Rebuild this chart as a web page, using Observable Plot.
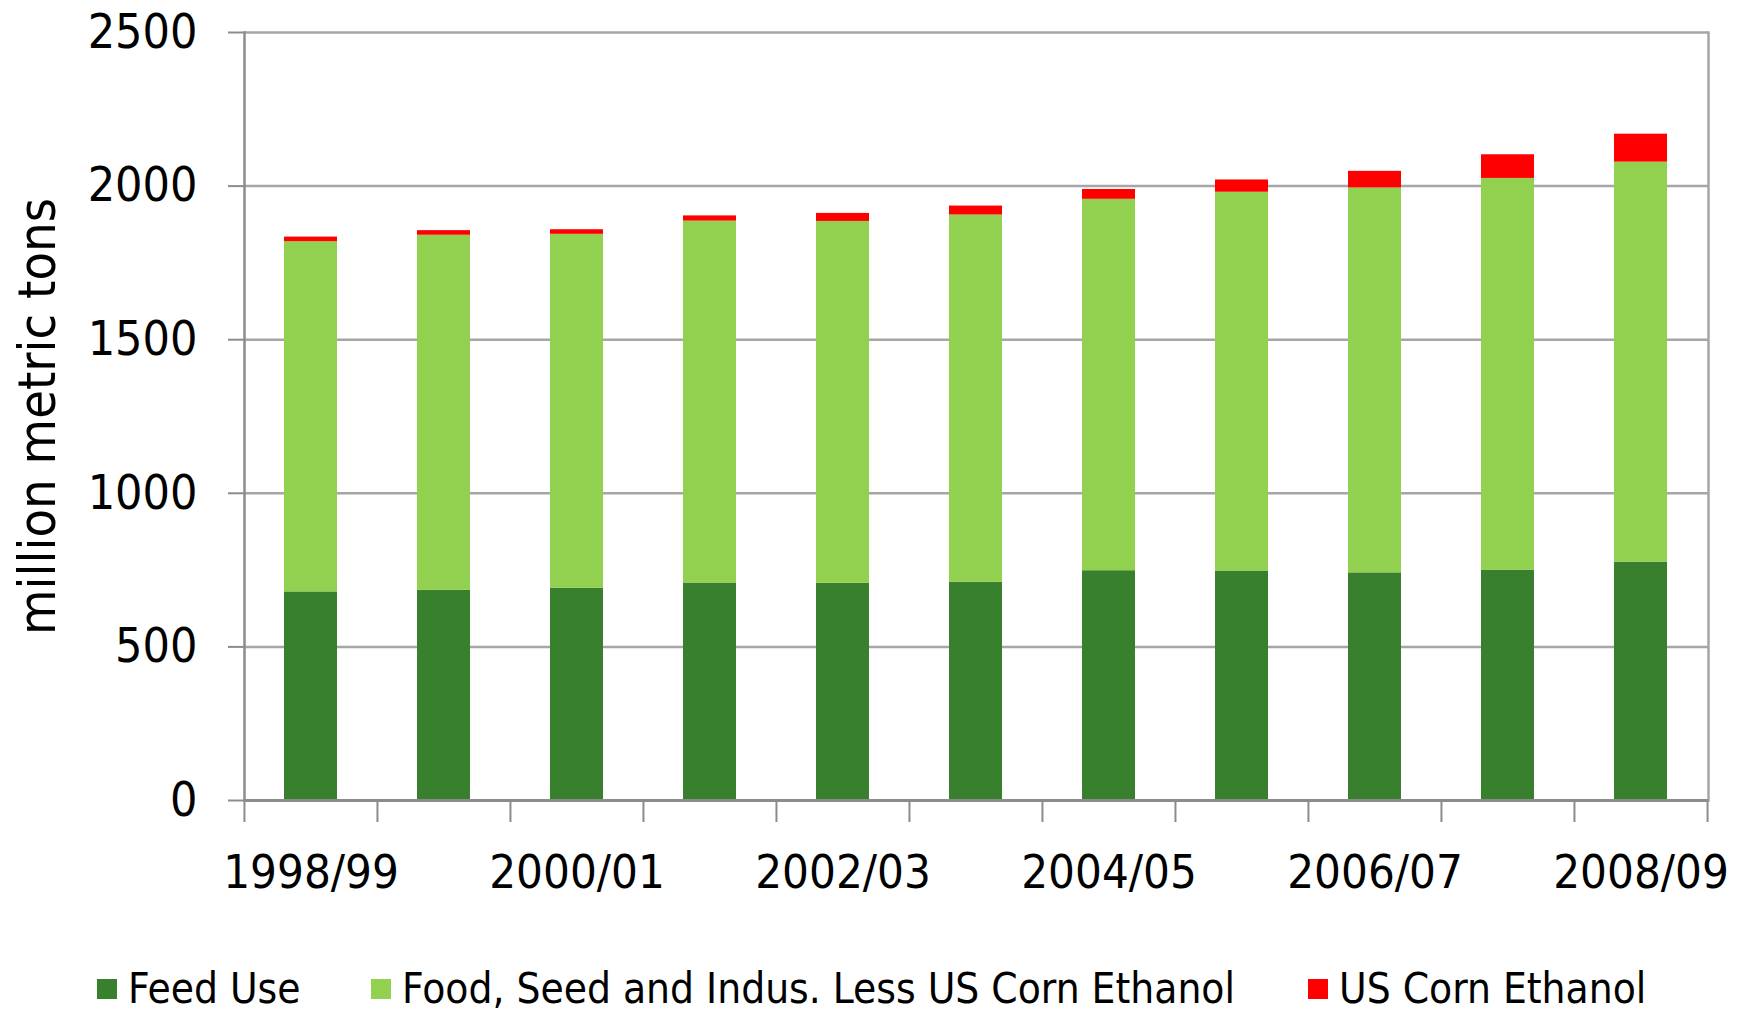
<!DOCTYPE html>
<html>
<head>
<meta charset="utf-8">
<script src="https://cdn.jsdelivr.net/npm/d3@7"></script>
<script src="https://cdn.jsdelivr.net/npm/@observablehq/plot@0.6"></script>
<style>
  html, body { margin: 0; padding: 0; background: #fff; }
  #chart { position: relative; width: 1748px; }
  .legend { position: relative; width: 1748px; height: 82px; font-family: "DejaVu Sans Condensed", "DejaVu Sans", sans-serif; font-size: 42px; line-height: 1; color: #000; }
  .legend .item { position: absolute; top: 37px; height: 44px; display: flex; align-items: center; white-space: nowrap; }
  .legend .sw { width: 20px; height: 20px; margin-right: 11px; display: inline-block; }
</style>
</head>
<body>
<div id="chart"></div>
<script>
const years = ["1998/99","1999/00","2000/01","2001/02","2002/03","2003/04","2004/05","2005/06","2006/07","2007/08","2008/09"];
const feedUse = [679, 684, 691, 708, 707, 710, 748, 747, 741, 750, 776];
const foodSeedIndus = [1140, 1156, 1152, 1178, 1178, 1196, 1209, 1233, 1253, 1275, 1302];
const usCornEthanol = [15, 15, 15, 17, 26, 29, 32, 40, 54, 77, 91];
const seriesNames = ["Feed Use", "Food, Seed and Indus. Less US Corn Ethanol", "US Corn Ethanol"];
const seriesColors = ["#38802E", "#92D050", "#FF0000"];
const yTicks = [0, 500, 1000, 1500, 2000, 2500];
const xTickLabels = ["1998/99", "2000/01", "2002/03", "2004/05", "2006/07", "2008/09"];
const yLabel = "million metric tons";

const seriesValues = [feedUse, foodSeedIndus, usCornEthanol];
const data = [];
years.forEach((yr, i) => {
  seriesNames.forEach((s, k) => data.push({year: yr, series: s, value: seriesValues[k][i]}));
});

const W = 1748, H = 930;
const mLeft = 244, mRight = 40, mTop = 32, mBottom = 130;
const step = (W - mLeft - mRight) / years.length;
const font = '"DejaVu Sans Condensed", "DejaVu Sans", sans-serif';
const gridColor = "#a6a6a6";
const axisColor = "#8c8c8c";

const chart = Plot.plot({
  width: W,
  height: H,
  marginLeft: mLeft,
  marginRight: mRight,
  marginTop: mTop,
  marginBottom: mBottom,
  style: {fontFamily: font, background: "#fff"},
  x: {domain: years, paddingInner: 0.6, paddingOuter: 0.3, axis: null},
  y: {domain: [0, 2500], axis: null},
  color: {domain: seriesNames, range: seriesColors},
  marks: [
    Plot.ruleY(yTicks.filter(d => d > 0), {stroke: gridColor, strokeWidth: 2.5}),
    Plot.barY(data, {x: "year", y: "value", fill: "series", order: seriesNames}),
    Plot.frame({stroke: gridColor, strokeWidth: 2.5, anchor: "right"}),
    Plot.frame({stroke: axisColor, strokeWidth: 2.5, anchor: "left"}),
    Plot.ruleY([0], {stroke: axisColor, strokeWidth: 3}),
    Plot.axisY({ticks: yTicks, tickSize: 16, tickPadding: 31, stroke: axisColor, strokeWidth: 2, fontSize: 48, tickFormat: d => String(d), label: null}),
    Plot.ruleX(years, {x: d => d, dx: -step / 2, y1: 0, y2: 0, insetBottom: -22, stroke: axisColor, strokeWidth: 2}),
    Plot.ruleX([years[years.length - 1]], {x: d => d, dx: step / 2, y1: 0, y2: 0, insetBottom: -22, stroke: axisColor, strokeWidth: 2}),
    Plot.axisX({ticks: xTickLabels, tickSize: 0, tickPadding: 54, fontSize: 47, label: null}),
    Plot.text([yLabel], {frameAnchor: "left", textAnchor: "middle", rotate: -90, dx: -206, lineAnchor: "middle", fontSize: 52, fill: "#000"})
  ]
});
document.getElementById("chart").appendChild(chart);

const legend = document.createElement("div");
legend.className = "legend";
const legendLeft = [97, 371, 1308];
seriesNames.forEach((s, k) => {
  const item = document.createElement("div");
  item.className = "item";
  item.style.left = legendLeft[k] + "px";
  const sw = document.createElement("span");
  sw.className = "sw";
  sw.style.background = seriesColors[k];
  const t = document.createElement("span");
  t.textContent = s;
  item.appendChild(sw);
  item.appendChild(t);
  legend.appendChild(item);
});
document.body.appendChild(legend);
</script>
</body>
</html>
